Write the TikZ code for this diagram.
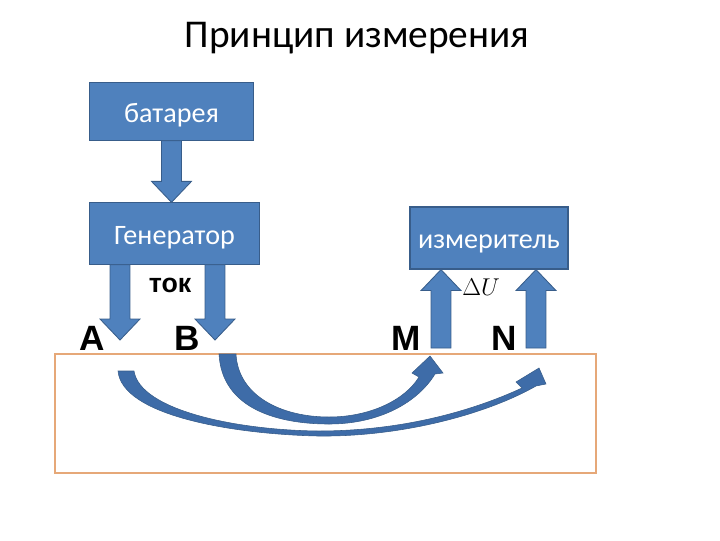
\documentclass[tikz,border=0pt]{standalone}
\usepackage{fontspec}
\setmainfont{Carlito}
\newfontfamily\arialfont{Liberation Sans}
\usetikzlibrary{calc}
\definecolor{boxblue}{RGB}{79,129,189}
\definecolor{boxedge}{RGB}{56,93,138}
\definecolor{curveblue}{RGB}{62,108,168}
\definecolor{groundline}{RGB}{230,168,120}

\begin{document}
\begin{tikzpicture}[x=0.025cm, y=-0.025cm,
  bluebox/.style={draw=boxedge, fill=boxblue, line width=0.8pt, inner sep=0pt, text=white, text height=15pt, text depth=0pt, font=\fontsize{20}{24}\selectfont},
  letter/.style={font=\arialfont\bfseries\fontsize{25}{29}\selectfont},
  fatarrow/.style={draw=boxedge, fill=boxblue, line width=0.6pt, to path={
    let \p1=(\tikztostart), \p2=(\tikztotarget), \n1={\y2>\y1 ? -14.9 : 14.9} in
    (\x2-7.1pt,\y1) -- (\x2-7.1pt,{\y2+(\n1)*1pt}) -- (\x2-14.2pt,{\y2+(\n1)*1pt}) -- (\x2,\y2)
    -- (\x2+14.2pt,{\y2+(\n1)*1pt}) -- (\x2+7.1pt,{\y2+(\n1)*1pt}) -- (\x2+7.1pt,\y1) -- cycle}},
  curvearrow/.style={fill=curveblue, draw=boxedge, line width=0.4pt}
]
  \useasboundingbox (0,0) rectangle (720,540);
  \node[font=\fontsize{28}{32}\selectfont] (title) at (357,38) {Принцип измерения};
  \node[bluebox, minimum width=4.08cm, minimum height=1.43cm] (bat) at (171.5,111.5) {батарея};
  \node[bluebox, minimum width=4.23cm, minimum height=1.53cm] (gen) at (174.5,233.5) {Генератор};
  \node[bluebox, minimum width=3.95cm, minimum height=1.55cm] (meter) at (489,238) {измеритель};
  \node[font=\arialfont\bfseries\fontsize{19}{22}\selectfont] (tok) at (170,285) {ток};
  \node[font=\fontsize{16}{19}\selectfont] (dU) at (481,287) {$\Delta U$};
  \node[letter] (lA) at (92,338) {A};
  \node[letter] (lB) at (187,338) {B};
  \node[letter] (lM) at (406,338) {M};
  \node[letter] (lN) at (504,338) {N};

  \coordinate (tipA) at (120,340);
  \coordinate (tipB) at (215,340);
  \coordinate (footM) at (441,348);
  \coordinate (footN) at (536,348);
  \draw[fatarrow] (bat.south) to (bat.south |- gen.north);
  \draw[fatarrow] (gen.south -| tipA) to (tipA);
  \draw[fatarrow] (gen.south -| tipB) to (tipB);
  \draw[fatarrow] (footM) to (footM |- meter.south);
  \draw[fatarrow] (footN) to (footN |- meter.south);

  \draw[groundline, line width=1.5pt] (55,354) rectangle (596,473);
  \path[curvearrow] (118,371) .. controls (122,415) and (230,434) .. (318,436) .. controls (400,437) and (485,415) .. (536,386)
    -- (546,384) -- (539,368) -- (516,382) -- (522,388) .. controls (470,412) and (400,431) .. (318,431) .. controls (235,430) and (140,410) .. (134,371) -- cycle;
  \path[curvearrow] (219,354) .. controls (222,410) and (280,424) .. (329,424) .. controls (380,424) and (418,402) .. (435,374)
    -- (443,373) -- (430,356) -- (412,373) -- (419,377) .. controls (405,400) and (370,417) .. (329,417) .. controls (280,417) and (238,395) .. (236,354) -- cycle;
\end{tikzpicture}
\end{document}
